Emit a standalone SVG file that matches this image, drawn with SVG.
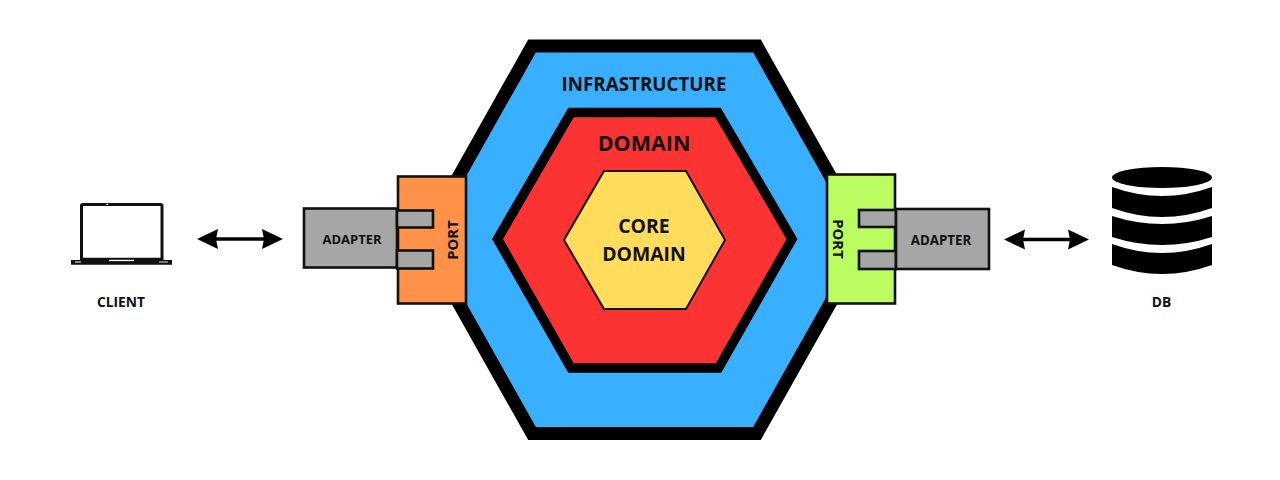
<svg xmlns="http://www.w3.org/2000/svg" width="1280" height="480" viewBox="0 0 1280 480">
<style>
text{font-family:"Open Sans","Noto Sans","Liberation Sans",sans-serif;font-weight:700;fill:#111;text-anchor:middle}
.box{stroke:#111;stroke-width:2.6}
.gray{fill:#a6a6a6}
.conn{stroke:#000;stroke-width:3.5;fill:none;marker-start:url(#a);marker-end:url(#a)}
</style>
<defs>
<marker id="a" markerUnits="userSpaceOnUse" markerWidth="26" markerHeight="24" refX="10" refY="12" orient="auto-start-reverse">
<path d="M0 2 L21 12 L0 22 L2 12Z" fill="#000"/>
</marker>
</defs>
<rect width="1280" height="480" fill="#fff"/>
<g id="infrastructure">
<polygon points="532,46 757,46 866,239.700 757,433.500 532,433.500 423,239.700" fill="#38b0ff" stroke="#000" stroke-width="13"/>
<text x="644" y="91" font-size="18.800">INFRASTRUCTURE</text>
</g>
<g id="domain">
<polygon points="571,112.500 718,112.500 792,239 718.500,368 571,368 497.500,239" fill="#fb3333" stroke="#000" stroke-width="9.500"/>
<text x="644" y="151" font-size="21.500">DOMAIN</text>
</g>
<g id="core-domain">
<polygon points="604,171 686,171 725,240 686,309 604,309 564,240" fill="#ffdc5c" stroke="#111" stroke-width="2"/>
<text x="644" y="233" font-size="19.400">CORE</text>
<text x="644" y="261" font-size="19.400">DOMAIN</text>
</g>
<g id="client">
<path d="M81.500 258V205.500Q81.500 204.500 83 204.500H160.500Q162 204.500 162 205.500V258" fill="#fff" stroke="#111" stroke-width="3"/>
<rect x="106.500" y="203.500" width="1.500" height="1.500" fill="#fff"/>
<path d="M80 257.700H163.500V260H172V264.700H71V260H80Z" fill="#111"/>
<rect x="109" y="259.800" width="25" height="1.300" fill="#fff"/>
<rect x="75" y="261.500" width="6" height="1" fill="#fff"/>
<rect x="159" y="261.500" width="9" height="1" fill="#ddd"/>
<text x="121" y="307" font-size="13.800">CLIENT</text>
</g>
<g id="adapter-left">
<rect class="box gray" x="304" y="208.500" width="93" height="59"/>
<text x="352" y="243.500" font-size="13">ADAPTER</text>
</g>
<g id="port-left">
<rect class="box" x="398" y="176.500" width="68" height="127" fill="#ff9248"/>
<rect class="box gray" x="397" y="210.500" width="36" height="17"/>
<rect class="box gray" x="397" y="250.500" width="36" height="18"/>
<text transform="translate(458 240) rotate(-90)" font-size="14.800">PORT</text>
</g>
<g id="port-right">
<rect class="box" x="827" y="174.500" width="68" height="129" fill="#bbfd60"/>
<rect class="box gray" x="859" y="210" width="37" height="17"/>
<rect class="box gray" x="859" y="251" width="37" height="18"/>
<text transform="translate(833 239) rotate(90)" font-size="14.800">PORT</text>
</g>
<g id="adapter-right">
<rect class="box gray" x="896" y="209" width="93" height="60"/>
<text x="941" y="245" font-size="13.300">ADAPTER</text>
</g>
<g id="db">
<ellipse cx="1162" cy="177.500" rx="50" ry="10.500" fill="#000"/>
<path d="M1112 187Q1162 205 1212 187V208Q1162 226 1112 208Z" fill="#000"/>
<path d="M1112 216Q1162 232 1212 216V237Q1162 253 1112 237Z" fill="#000"/>
<path d="M1112 244Q1162 262 1212 244V265Q1162 283 1112 265Z" fill="#000"/>
<text x="1161.500" y="307" font-size="13.800">DB</text>
</g>
<g id="connectors">
<path class="conn" d="M208 239H272"/>
<path class="conn" d="M1015 239.500H1078"/>
</g>
</svg>
